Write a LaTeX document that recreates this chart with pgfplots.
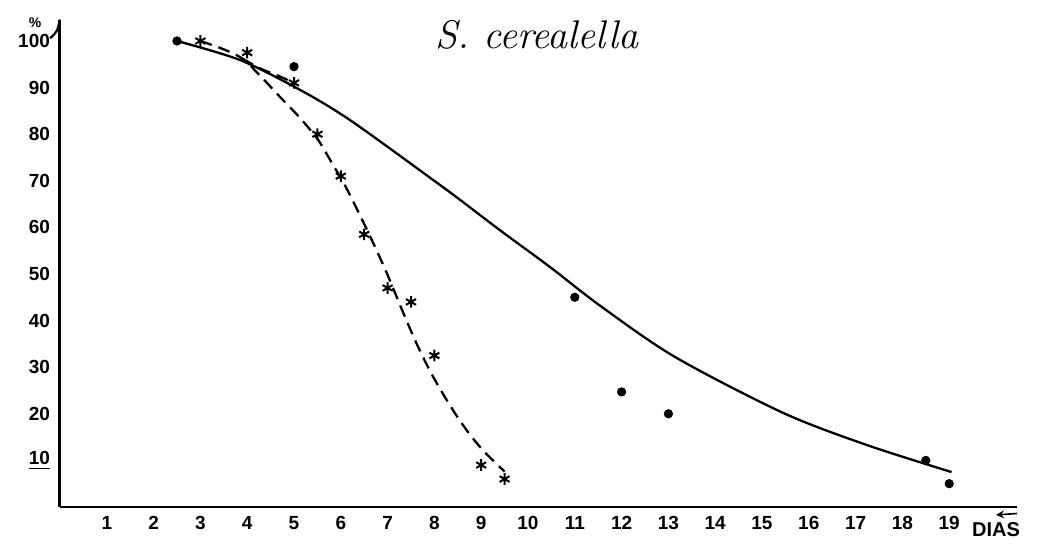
\documentclass[border=0pt]{standalone}
\usepackage{fontspec}
\setmainfont{Liberation Sans}
\usepackage{pgfplots}
\pgfplotsset{compat=1.18}
\begin{document}
\begin{tikzpicture}
\begin{axis}[
  x=23.4pt, y=2.33pt,
  anchor=origin, at={(0,0)},
  xmin=0, xmax=20.45, ymin=0, ymax=104.6,
  axis x line=bottom, axis y line=left,
  x axis line style={-, line width=1.3pt},
  y axis line style={-, line width=1.5pt},
  major tick length=0pt,
  xtick={1,...,19},
  ytick={10,20,...,100},
  yticklabels={\underline{10},20,30,40,50,60,70,80,90,100},
  /pgf/number format/assume math mode=true,
  ticklabel style={font=\fontsize{9.5}{11}\selectfont\bfseries},
  xticklabel style={yshift=-1pt},
  yticklabel style={xshift=-1.5pt},
  clip=false,
]
% fitted curves
\addplot[black, line width=1.15pt, smooth, tension=0.5] coordinates {
 (2.5,100) (3.85,95.9) (5.13,89.5) (6.2,83) (7.97,70.2) (8.55,65.9)
 (9.4,59.4) (10.47,51.5) (11.54,43.2) (13.14,32.2) (15.45,20.2)
 (17.24,13.3) (19.05,7.5)};
\addplot[black, line width=1.15pt, dash pattern=on 6pt off 3.5pt, smooth, tension=0.5] coordinates {
 (3,100) (3.5,98.2) (3.9,96.2) (4.3,92.3) (4.7,88) (5.1,83.8) (5.5,79)
 (5.8,74) (6.1,68.8) (6.4,62.8) (6.7,56.5) (7.0,49.8) (7.3,42.5)
 (7.6,35.5) (7.9,29.3) (8.2,24) (8.5,19.2) (8.8,15) (9.1,11.5) (9.5,7.6)};
\addplot[black, line width=1.15pt, dash pattern=on 6pt off 3.5pt, smooth] coordinates {
 (3.9,96.2) (4.3,94) (4.65,92.6) (5,91)};
% data points
\addplot[only marks, mark=*, mark size=2.1pt, black] coordinates {
 (2.5,100) (5,94.5) (11,45) (12,24.7) (13,20) (18.5,10) (19,5)};
\addplot[only marks, mark=asterisk, mark size=2.9pt, black, line width=1pt] coordinates {
 (3,100) (4,97.5) (5,91) (5.5,80) (6,71) (6.5,58.5) (7,47) (7.5,44)
 (8,32.5) (9,9) (9.5,6)};
% decorations
\draw[line width=1.1pt] (axis cs:0,104.6) .. controls (axis cs:-0.06,102) .. (axis cs:-0.21,100.6);
\node[font=\fontsize{7}{8}\selectfont\bfseries] at (axis cs:-0.53,103.9) {\%};
\node[font=\fontsize{10}{12}\selectfont\bfseries] at (axis cs:20.0,-4.9) {DIAS};
\draw[-stealth, line width=0.8pt] (axis cs:20.45,-1.4) -- (axis cs:20.0,-1.7);
\node[font=\fontfamily{lmr}\itshape\fontsize{20}{24}\selectfont] at (axis cs:10.19,101.3) {S. cerealella};
\end{axis}
\pgfresetboundingbox
\path[use as bounding box] (-30pt,-21.5pt) rectangle (490.5pt,253.5pt);
\end{tikzpicture}
\end{document}
